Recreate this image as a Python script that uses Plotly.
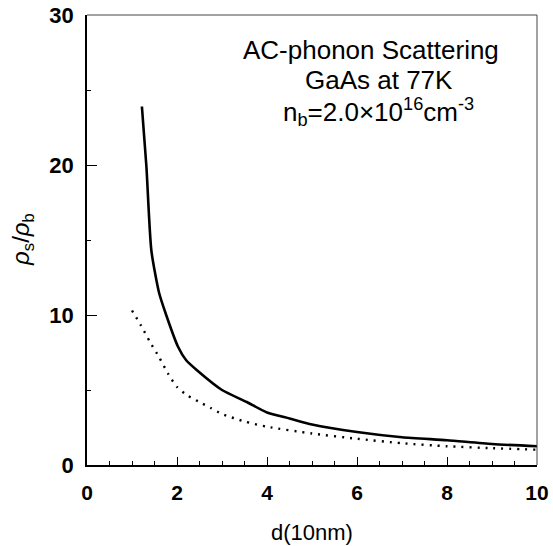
import plotly.graph_objects as go

# solid curve
solid_x = [1.22, 1.32, 1.43, 1.6, 1.76, 2.02, 2.2, 2.45, 3.0, 3.55, 4.0, 4.5, 5.0, 6.0, 7.0, 8.0, 9.0, 10.0]
solid_y = [23.9, 19.9, 14.3, 11.5, 10.0, 7.9, 7.0, 6.3, 5.0, 4.2, 3.5, 3.1, 2.7, 2.2, 1.85, 1.65, 1.4, 1.25]

# dotted curve
dot_x = [1.0, 1.2, 1.4, 1.6, 1.8, 2.0, 2.25, 2.5, 2.75, 3.0, 3.5, 4.0, 5.0, 6.0, 7.0, 8.0, 9.0, 10.0]
dot_y = [10.3, 9.3, 8.2, 7.2, 6.1, 5.2, 4.6, 4.2, 3.8, 3.4, 2.9, 2.55, 2.1, 1.75, 1.45, 1.25, 1.12, 1.02]

x_ticks = [0, 2, 4, 6, 8, 10]
y_ticks = [0, 10, 20, 30]

label_lines = [
    "AC-phonon Scattering",
    "GaAs at 77K",
    "n<sub>b</sub>=2.0×10<sup>16</sup>cm<sup>-3</sup>",
]

FONT = "Liberation Sans, Arial, sans-serif"


def main():
    fig = go.Figure()
    fig.add_trace(go.Scatter(x=solid_x, y=solid_y, mode="lines",
                             line=dict(color="black", width=2.6, shape="spline", smoothing=0.6)))
    fig.add_trace(go.Scatter(x=dot_x, y=dot_y, mode="lines",
                             line=dict(color="black", width=2.4, dash="2px,6px",
                                       shape="spline", smoothing=0.6)))

    fig.update_layout(
        width=553, height=546, autosize=False,
        margin=dict(l=87, r=16, t=15, b=81),
        plot_bgcolor="white", paper_bgcolor="white",
        showlegend=False,
        font=dict(family=FONT, color="black"),
    )
    fig.update_xaxes(
        range=[0, 10], tickvals=x_ticks, showgrid=False, zeroline=False, automargin=False,
        showline=True, linecolor="black", linewidth=2,
        ticks="inside", ticklen=8, tickwidth=1, tickcolor="black",
        minor=dict(dtick=0.5, ticks="inside", ticklen=4, tickcolor="black"),
        tickfont=dict(size=21, weight="bold"), ticklabelstandoff=8,
        ticklabeloverflow="allow",
    )
    fig.update_yaxes(
        range=[0, 30], tickvals=y_ticks, showgrid=False, zeroline=False, automargin=False,
        showline=True, linecolor="black", linewidth=1.5,
        ticks="inside", ticklen=10, tickwidth=1, tickcolor="black",
        minor=dict(dtick=5, ticks="inside", ticklen=4, tickcolor="black"),
        tickfont=dict(size=22, weight="bold"), ticklabelstandoff=7,
        ticklabeloverflow="allow",
    )

    # thin top and right borders
    fig.add_shape(type="line", xref="paper", yref="paper", x0=0, x1=1, y0=1, y1=1,
                  line=dict(color="#444", width=1))
    fig.add_shape(type="line", xref="paper", yref="paper", x0=1, x1=1, y0=0, y1=1,
                  line=dict(color="#444", width=1))

    # text block in the upper right
    for txt, xx, yy in zip(label_lines, [6.3, 6.48, 6.48], [27.65, 25.65, 23.55]):
        fig.add_annotation(x=xx, y=yy, xref="x", yref="y", text=txt, showarrow=False,
                           font=dict(size=26, family=FONT), xanchor="center", yanchor="middle")

    # axis titles
    fig.add_annotation(x=0.5, y=0, xref="paper", yref="paper", yshift=-67,
                       text="d(10nm)", showarrow=False, xanchor="center", yanchor="middle",
                       font=dict(size=22, family=FONT))
    fig.add_annotation(x=0, y=15, xref="paper", yref="y", xshift=-65,
                       text="<i>ρ</i><sub>s</sub>/<i>ρ</i><sub>b</sub>", textangle=-90,
                       showarrow=False, xanchor="center", yanchor="middle",
                       font=dict(size=24, family=FONT))

    # drop the default 8px page margin so the figure sits at the window corner
    fig.write_html("out.html", config={"displayModeBar": False},
                   post_script="document.body.style.margin='0px';")


if __name__ == '__main__':
    main()
